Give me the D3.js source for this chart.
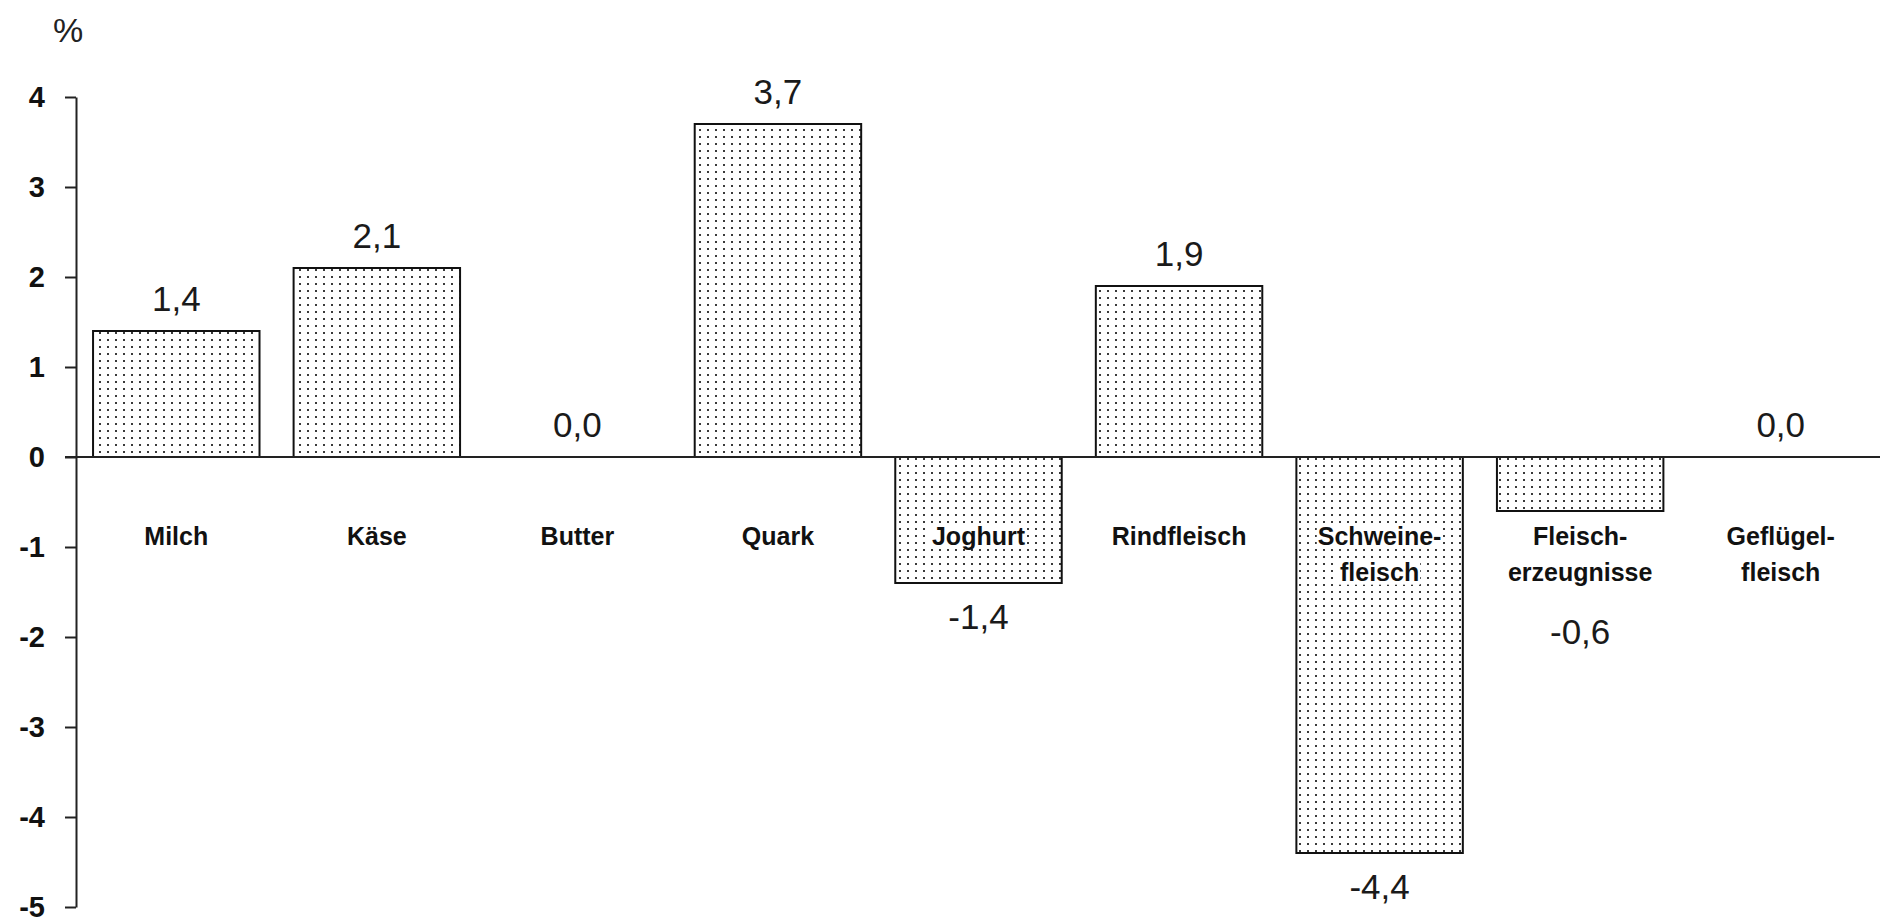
<!DOCTYPE html>
<html>
<head>
<meta charset="utf-8">
<script src="https://cdn.jsdelivr.net/npm/d3@7"></script>
<style>
  html, body { margin: 0; padding: 0; background: #fff; }
  svg { display: block; }
  text { font-family: "Liberation Sans", Arial, sans-serif; }
</style>
</head>
<body>
<script>
// ---- data ----
const categories = ["Milch", "Käse", "Butter", "Quark", "Joghurt", "Rindfleisch",
                    "Schweine-\nfleisch", "Fleisch-\nerzeugnisse", "Geflügel-\nfleisch"];
const values = [1.4, 2.1, 0.0, 3.7, -1.4, 1.9, -4.4, -0.6, 0.0];
const yTickValues = [4, 3, 2, 1, 0, -1, -2, -3, -4, -5];
const unitLabel = "%";

// ---- layout ----
const W = 1880, H = 920;
const svg = d3.select("body").append("svg").attr("width", W).attr("height", H);

const de = d3.formatLocale({ decimal: ",", thousands: ".", grouping: [3], currency: ["", " €"], minus: "-" });
const fmtVal = de.format(".1f");
const fmtTick = de.format("d");

const x = d3.scaleBand().domain(categories).range([76, 1881]).paddingInner(0.17).paddingOuter(0.085);
const y = d3.scaleLinear().domain([-5, 4]).range([907, 97]);

const defs = svg.append("defs");
const pat = defs.append("pattern").attr("id", "dots")
  .attr("patternUnits", "userSpaceOnUse").attr("width", 8).attr("height", 7);
pat.append("rect").attr("width", 8).attr("height", 7).attr("fill", "#fff");
pat.append("rect").attr("x", 3).attr("y", 3).attr("width", 2).attr("height", 2).attr("fill", "#3a3a3a");

const data = categories.map((c, i) => ({ c, v: values[i], lines: c.split("\n") }));

// bars
svg.append("g").selectAll("rect").data(data.filter(d => d.v !== 0)).join("rect")
  .attr("x", d => x(d.c))
  .attr("y", d => y(Math.max(0, d.v)))
  .attr("width", x.bandwidth())
  .attr("height", d => Math.abs(y(d.v) - y(0)))
  .attr("fill", "url(#dots)")
  .attr("stroke", "#111")
  .attr("stroke-width", 2);

// y axis
const tickLen = 11;
const yAxis = d3.axisLeft(y).tickValues(yTickValues).tickFormat(fmtTick)
  .tickSize(tickLen).tickSizeOuter(0).tickPadding(20);
const gy = svg.append("g").attr("transform", `translate(${x.range()[0]},0)`).call(yAxis);
gy.select(".domain").attr("stroke", "#222").attr("stroke-width", 2);
gy.selectAll(".tick line").attr("stroke", "#222").attr("stroke-width", 2);
gy.selectAll(".tick text")
  .attr("font-family", "'Liberation Sans', Arial, sans-serif")
  .attr("font-size", 29).attr("font-weight", "bold").attr("fill", "#111")
  .attr("dy", "0.34em");

// zero line
svg.append("line")
  .attr("x1", x.range()[0] - tickLen).attr("x2", x.range()[1])
  .attr("y1", y(0)).attr("y2", y(0))
  .attr("stroke", "#222").attr("stroke-width", 2);

// unit label
svg.append("text").attr("x", 53).attr("y", 42)
  .attr("font-size", 34).attr("fill", "#222").text(unitLabel);

// category labels
const catBase = y(0) + 88, lineH = 35.7;
const cg = svg.append("g");
data.forEach(d => {
  const cx = x(d.c) + x.bandwidth() / 2;
  d.lines.forEach((ln, k) => {
    const t = cg.append("text")
      .attr("x", cx).attr("y", catBase + k * lineH)
      .attr("text-anchor", "middle")
      .attr("font-size", 25).attr("font-weight", "bold").attr("fill", "#111")
      .text(ln);
    const bb = t.node().getBBox();
    cg.insert("rect", () => t.node())
      .attr("x", bb.x - 1).attr("y", bb.y + 2).attr("width", bb.width + 2).attr("height", bb.height - 3)
      .attr("fill", "#fff");
  });
});

// value labels
svg.append("g").selectAll("text").data(data).join("text")
  .attr("x", d => x(d.c) + x.bandwidth() / 2)
  .attr("y", d => d.v >= 0
      ? y(d.v) - 20
      : Math.max(y(d.v) + 46, catBase + (d.lines.length - 1) * lineH + 63))
  .attr("text-anchor", "middle")
  .attr("font-size", 35).attr("fill", "#1a1a1a")
  .text(d => fmtVal(d.v));
</script>
</body>
</html>
